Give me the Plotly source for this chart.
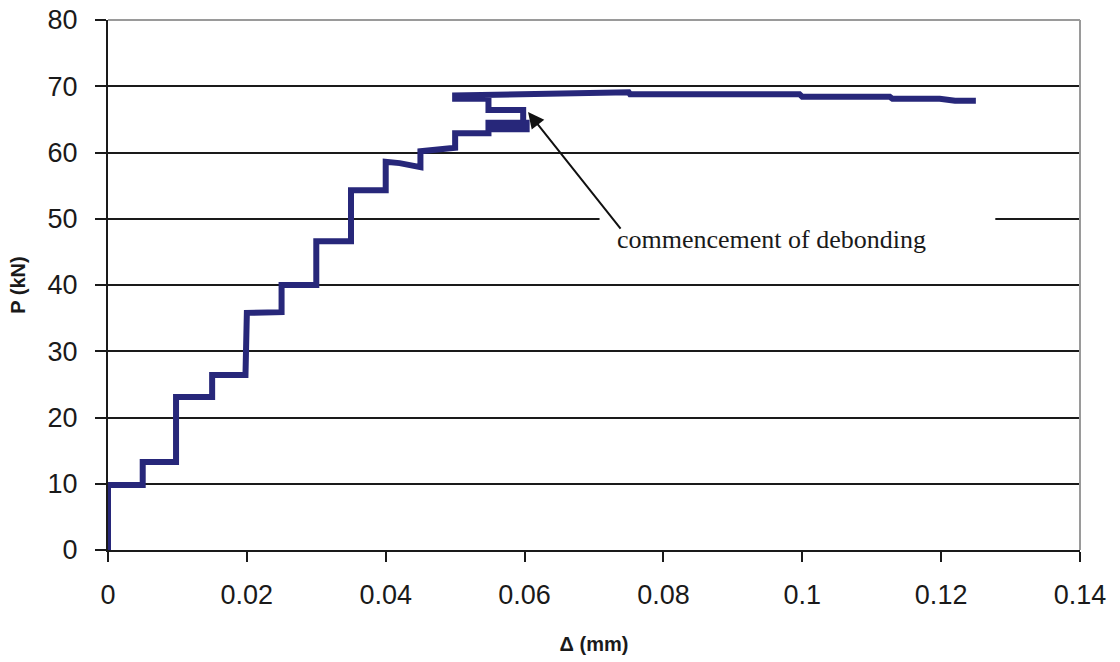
import plotly.graph_objects as go

# Load-displacement step curve
delta_mm = [0, 0, 0.005, 0.005, 0.0098, 0.0098, 0.015, 0.015, 0.0198, 0.0198, 0.02, 0.025,
            0.025, 0.03, 0.03, 0.035, 0.035, 0.04, 0.04, 0.042, 0.045, 0.045, 0.05, 0.05,
            0.0548, 0.0548, 0.0603, 0.0603, 0.0548, 0.0548, 0.0598, 0.0598, 0.0548, 0.0548,
            0.05, 0.05, 0.0555, 0.0598, 0.075, 0.0752, 0.0996, 0.1, 0.1126, 0.113, 0.1198,
            0.122, 0.125]
load_kN = [0, 9.8, 9.8, 13.3, 13.3, 23.1, 23.1, 26.4, 26.4, 35.6, 35.8, 35.9,
           40.0, 40.0, 46.6, 46.6, 54.3, 54.3, 58.6, 58.4, 57.8, 60.2, 60.7, 62.9,
           62.9, 64.5, 64.5, 63.5, 63.5, 64.0, 64.0, 66.4, 66.4, 68.1,
           68.1, 68.6, 68.7, 69.0, 69.1, 68.8, 68.8, 68.4, 68.4, 68.1, 68.1,
           67.8, 67.8]

x_ticks = [0, 0.02, 0.04, 0.06, 0.08, 0.1, 0.12, 0.14]
x_tick_labels = ["0", "0.02", "0.04", "0.06", "0.08", "0.1", "0.12", "0.14"]
y_ticks = [0, 10, 20, 30, 40, 50, 60, 70, 80]
y_tick_labels = [str(v) for v in y_ticks]

note_text = "commencement of debonding"
note_pos = (0.0955, 46.8)
arrow_tip = (0.0605, 66.1)
arrow_tail = (0.0740, 48.3)

fig = go.Figure()
fig.add_trace(go.Scatter(
    x=delta_mm, y=load_kN, mode="lines",
    line=dict(color="#27277a", width=6),
    hoverinfo="skip", showlegend=False,
))

tick_font = dict(family="Liberation Sans, Arial, sans-serif", size=27, color="#1a1a1a")
title_font = dict(family="Liberation Sans, Arial, sans-serif", size=20, color="#1a1a1a")

fig.update_layout(
    width=1120, height=662,
    margin=dict(l=108, r=40, t=20, b=112),
    paper_bgcolor="white", plot_bgcolor="white",
    showlegend=False,
    xaxis=dict(
        range=[0, 0.14], tickvals=x_ticks, ticktext=x_tick_labels,
        showgrid=False, zeroline=False, automargin=False,
        showline=True, linecolor="#1a1a1a", linewidth=2,
        ticks="outside", ticklen=10, tickwidth=2, tickcolor="#1a1a1a",
        tickfont=tick_font, ticklabelstandoff=10, ticklabeloverflow="allow",
        title=dict(text="<b>Δ (mm)</b>", font=title_font, standoff=28),
    ),
    yaxis=dict(
        range=[0, 80], tickvals=y_ticks, ticktext=y_tick_labels,
        showgrid=True, gridcolor="#1a1a1a", gridwidth=2,
        zeroline=False, automargin=False,
        showline=True, linecolor="#1a1a1a", linewidth=2,
        ticks="outside", ticklen=11, tickwidth=2, tickcolor="#1a1a1a",
        tickfont=tick_font, ticklabelstandoff=12, ticklabeloverflow="allow",
        title=dict(text="<b>P (kN)</b>", font=title_font, standoff=17),
    ),
    shapes=[
        # white box behind the note (interrupts the 50 kN gridline)
        dict(type="rect", xref="x", yref="y", x0=0.0708, x1=0.1278, y0=47.0, y1=52.0,
             fillcolor="white", line=dict(width=0), layer="between"),
        # gray top and right frame
        dict(type="line", xref="paper", yref="paper", x0=0, x1=1, y0=1, y1=1,
             line=dict(color="#9a9a9a", width=2), layer="above"),
        dict(type="line", xref="paper", yref="paper", x0=1, x1=1, y0=0, y1=1,
             line=dict(color="#9a9a9a", width=2), layer="above"),
    ],
    annotations=[
        dict(x=arrow_tip[0], y=arrow_tip[1], ax=arrow_tail[0], ay=arrow_tail[1],
             xref="x", yref="y", axref="x", ayref="y", text="",
             showarrow=True, arrowhead=2, arrowsize=1.6, arrowwidth=2, arrowcolor="#111111"),
        dict(x=note_pos[0], y=note_pos[1], xref="x", yref="y", text=note_text,
             showarrow=False,
             font=dict(family="Liberation Serif, Times New Roman, serif", size=26, color="#1a1a1a")),
    ],
)

fig.write_html("out.html", config={"displayModeBar": False},
               post_script="document.body.style.margin='0';")
